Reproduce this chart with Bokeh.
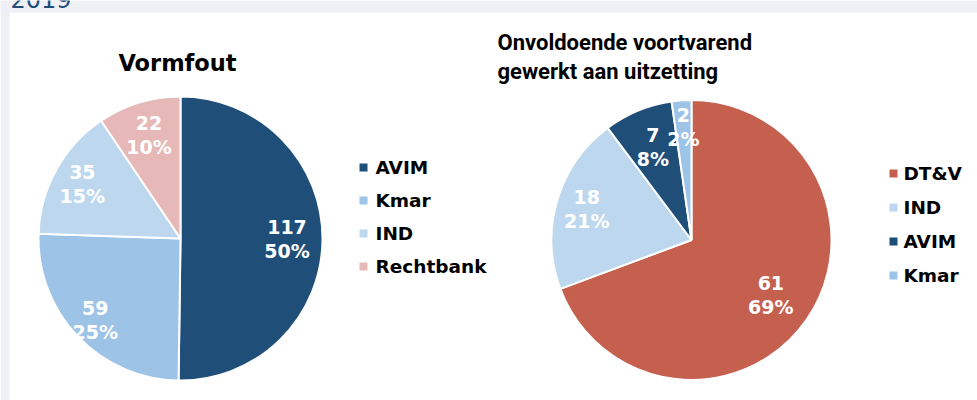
import numpy as np
from bokeh.plotting import figure
from bokeh.models import Range1d, ColumnDataSource
from bokeh.core.properties import value
from bokeh.embed import file_html
from bokeh.resources import INLINE

# ---------------- data ----------------
year_label = "2019"

left_title = "Vormfout"
left_cats = ["AVIM", "Kmar", "IND", "Rechtbank"]
left_vals = [117, 59, 35, 22]
left_pcts = ["50%", "25%", "15%", "10%"]

right_title = ["Onvoldoende voortvarend", "gewerkt aan uitzetting"]
right_cats = ["DT&V", "IND", "AVIM", "Kmar"]
right_vals = [61, 18, 7, 2]
right_pcts = ["69%", "21%", "8%", "2%"]

colors = {"AVIM": "#1f4e79", "Kmar": "#9dc3e6", "IND": "#bdd7ee",
          "Rechtbank": "#e6b9b8", "DT&V": "#c5604f"}

# ---------------- layout ----------------
W, H = 977, 400
BG = "#eff0f6"
FONT = value("DejaVu Sans")


def X(px):
    return px


def Y(py):
    return H - py


p = figure(width=W, height=H, x_range=Range1d(0, W), y_range=Range1d(0, H),
           output_backend="svg", toolbar_location=None, min_border=0,
           background_fill_color="white", border_fill_color="white",
           outline_line_color=None)
p.axis.visible = False
p.grid.visible = False

# lavender page strips
p.quad(left=[0], right=[W], bottom=[Y(12)], top=[H], fill_color=BG, line_color=None)
p.quad(left=[0], right=[X(9)], bottom=[0], top=[H], fill_color=BG, line_color=None)
p.text(x=[X(10)], y=[Y(-2)], text=[year_label], text_font=FONT,
       text_font_size="24px", text_color="#1f4e79", text_baseline="middle",
       text_align="left")


def draw_pie(cats, vals, pcts, cx, cy, r, label_rf, lx0, ly0, ldy, txt_x):
    v = np.array(vals, dtype=float)
    frac = v / v.sum()
    c1 = np.cumsum(frac)
    c0 = c1 - frac
    src = ColumnDataSource(dict(
        start=np.pi / 2 - 2 * np.pi * c0,
        end=np.pi / 2 - 2 * np.pi * c1,
        color=[colors[c] for c in cats],
    ))
    p.wedge(x=cx, y=cy, radius=r, start_angle="start", end_angle="end",
            direction="clock", fill_color="color", line_color="white",
            line_width=2, source=src)
    mid = (c0 + c1) / 2 * 2 * np.pi
    rf = np.array(label_rf)
    lx = cx + rf * r * np.sin(mid)
    ly = cy + rf * r * np.cos(mid)
    common = dict(text_font=FONT, text_font_style="bold", text_font_size="19px",
                  text_color="white", text_align="center", text_baseline="middle")
    p.text(x=lx, y=ly + 12, text=[str(x) for x in vals], **common)
    p.text(x=lx, y=ly - 12, text=list(pcts), **common)
    # legend
    n = len(cats)
    ys = [ly0 - i * ldy for i in range(n)]
    p.scatter(x=[lx0] * n, y=ys, marker="square", size=8,
              fill_color=[colors[c] for c in cats], line_color=None)
    p.text(x=[txt_x] * n, y=ys, text=list(cats), text_font=FONT,
           text_font_style="bold", text_font_size="18.5px", text_color="black",
           text_align="left", text_baseline="middle")


draw_pie(left_cats, left_vals, left_pcts, X(180), Y(238), 142,
         [0.75, 0.83, 0.79, 0.76], X(363), Y(167), 33, X(375))
draw_pie(right_cats, right_vals, right_pcts, X(691), Y(239.5), 140,
         [0.69, 0.78, 0.72, 0.81], X(893), Y(173), 34, X(903))

# titles
p.text(x=[X(177)], y=[Y(62)], text=[left_title], text_font=FONT,
       text_font_style="bold", text_font_size="22.5px", text_color="black",
       text_align="center", text_baseline="middle")
p.text(x=[X(497), X(497)], y=[Y(42), Y(71)], text=right_title,
       text_font=value("Roboto"), text_font_style="bold", text_font_size="22px",
       text_color="black", text_align="left", text_baseline="middle")

open("out.html", "w").write(file_html(p, INLINE))
